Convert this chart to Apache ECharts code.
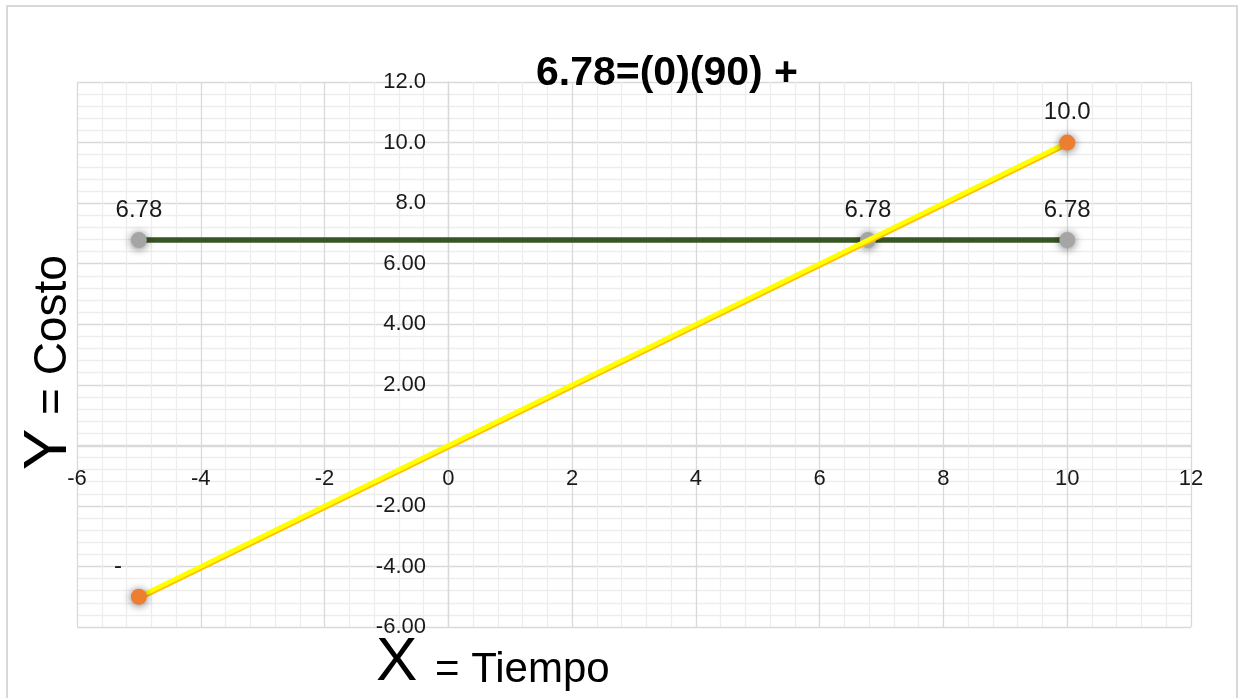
<!DOCTYPE html>
<html>
<head>
<meta charset="utf-8">
<title>6.78=(0)(90) +</title>
<script src="https://cdn.jsdelivr.net/npm/echarts@6/dist/echarts.min.js"></script>
<style>
  html, body { margin: 0; padding: 0; background: #fff; }
  #chart { width: 1245px; height: 698px; }
</style>
</head>
<body>
<div id="chart"></div>
<script>
// 数据
const costX = [-5, 6.78, 10];
const costY = [6.78, 6.78, 6.78];
const costLabels = ['6.78', '6.78', '6.78'];

const lineX = [-5, 10];
const lineY = [-5, 10];
const lineLabels = ['-', '10.0'];

const xTicks = ['-6', '-4', '-2', '0', '2', '4', '6', '8', '10', '12'];
const yTicks = ['-6.00', '-4.00', '-2.00', '', '2.00', '4.00', '6.00', '8.0', '10.0', '12.0'];

const FONT = 'Liberation Sans, Arial, sans-serif';

const chart = echarts.init(document.getElementById('chart'));

const labelStyle = {
  show: true,
  position: 'top',
  distance: 10,
  fontFamily: FONT,
  fontSize: 24,
  color: '#1a1a1a'
};

const option = {
  animation: false,
  title: {
    text: '6.78=(0)(90) +',
    left: 662,
    top: 48,
    textAlign: 'center',
    textStyle: {fontFamily: FONT, fontSize: 41, fontWeight: 'bold', color: '#000'}
  },
  grid: {left: 77, right: 54, top: 82, bottom: 71, containLabel: false},
  xAxis: {
    type: 'value',
    min: -6,
    max: 12,
    interval: 2,
    // 轴线放到 y=0 处
    offset: -181,
    axisLine: {show: true, onZero: false, lineStyle: {color: '#d9d9d9', width: 1.3}},
    axisTick: {show: false},
    axisLabel: {
      margin: 22,
      fontFamily: FONT,
      fontSize: 22,
      color: '#1a1a1a',
      formatter: (v) => xTicks[Math.round((v + 6) / 2)]
    },
    splitLine: {show: true, lineStyle: {color: '#d9d9d9', width: 1.3}},
    minorTick: {show: false, splitNumber: 5},
    minorSplitLine: {show: true, lineStyle: {color: '#ededed', width: 1.3}}
  },
  yAxis: {
    type: 'value',
    min: -6,
    max: 12,
    interval: 2,
    // 轴线放到 x=0 处
    offset: -371,
    axisLine: {show: true, onZero: false, lineStyle: {color: '#d9d9d9', width: 1.3}},
    axisTick: {show: false},
    axisLabel: {
      margin: 22,
      fontFamily: FONT,
      fontSize: 22,
      color: '#1a1a1a',
      formatter: (v) => yTicks[Math.round((v + 6) / 2)]
    },
    splitLine: {show: true, lineStyle: {color: '#d9d9d9', width: 1.3}},
    minorTick: {show: false, splitNumber: 5},
    minorSplitLine: {show: true, lineStyle: {color: '#ededed', width: 1.3}}
  },
  series: [
    {
      name: 'Costo',
      type: 'line',
      data: costX.map((x, i) => [x, costY[i]]),
      symbol: 'circle',
      symbolSize: 16,
      lineStyle: {color: '#375623', width: 5.5},
      itemStyle: {
        color: '#a5a5a5',
        shadowBlur: 8,
        shadowColor: 'rgba(0,0,0,0.55)',
        shadowOffsetY: 1
      },
      label: Object.assign({}, labelStyle, {
        formatter: (p) => costLabels[p.dataIndex]
      }),
      z: 2
    },
    {
      name: 'Tiempo',
      type: 'line',
      data: lineX.map((x, i) => [x, lineY[i]]),
      symbol: 'circle',
      symbolSize: 16,
      lineStyle: {
        color: '#ffff00',
        width: 4.5,
        shadowColor: '#ffc000',
        shadowBlur: 0,
        shadowOffsetY: 2
      },
      itemStyle: {
        color: '#ed7d31',
        shadowBlur: 8,
        shadowColor: 'rgba(0,0,0,0.55)',
        shadowOffsetY: 1
      },
      label: Object.assign({}, labelStyle, {
        formatter: (p) => lineLabels[p.dataIndex]
      }),
      labelLayout: (params) => {
        // 左下角的"-"标签偏左上
        if (params.dataIndex === 0) {
          return {dx: -21, dy: 0};
        }
        return {};
      },
      z: 3
    }
  ],
  graphic: [
    {
      type: 'rect',
      silent: true,
      shape: {x: 7, y: 6, width: 1230, height: 720},
      style: {fill: 'none', stroke: '#d9d9d9', lineWidth: 2},
      z: -10
    },
    {
      type: 'text',
      x: 49,
      y: 470,
      rotation: Math.PI / 2,
      style: {text: 'Y', fontFamily: FONT, fontSize: 62, fill: '#000', align: 'left', verticalAlign: 'middle'}
    },
    {
      type: 'text',
      x: 53,
      y: 415,
      rotation: Math.PI / 2,
      style: {text: '= Costo', fontFamily: FONT, fontSize: 46, fill: '#000', align: 'left', verticalAlign: 'middle'}
    },
    {
      type: 'text',
      x: 376,
      y: 663,
      style: {text: 'X', fontFamily: FONT, fontSize: 62, fill: '#000', align: 'left', verticalAlign: 'middle'}
    },
    {
      type: 'text',
      x: 435,
      y: 670,
      style: {text: '= Tiempo', fontFamily: FONT, fontSize: 42, fill: '#000', align: 'left', verticalAlign: 'middle'}
    }
  ]
};

chart.setOption(option);
</script>
</body>
</html>
